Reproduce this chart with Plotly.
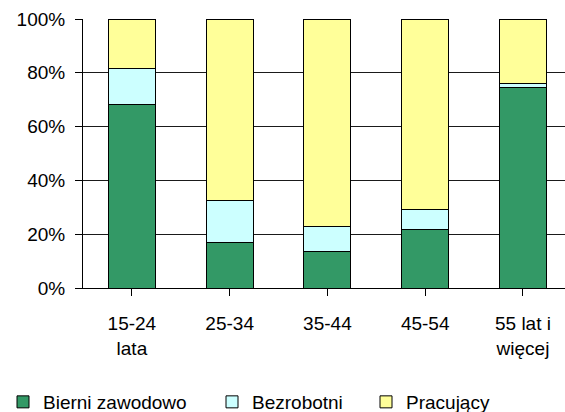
import plotly.graph_objects as go

categories = ["15-24<br>lata", "25-34", "35-44", "45-54", "55 lat i<br>więcej"]
bierni = [68.3, 16.8, 13.4, 21.8, 74.6]
bezrobotni = [13.4, 15.9, 9.6, 7.3, 1.5]
pracujacy = [18.3, 67.3, 77.0, 70.9, 23.9]
y_ticks = [0, 20, 40, 60, 80, 100]
y_labels = ["0%", "20%", "40%", "60%", "80%", "100%"]

series = [
    ("Bierni zawodowo", bierni, "#339966", "legend", 3),
    ("Bezrobotni", bezrobotni, "#CCFFFF", "legend2", 212),
    ("Pracujący", pracujacy, "#FFFF99", "legend3", 366),
]

FONT = "Arial, Liberation Sans, sans-serif"
W, H = 565, 412

fig = go.Figure()
for name, vals, color, lg, _ in series:
    fig.add_trace(go.Bar(
        x=list(range(len(categories))), y=vals, name=name, legend=lg,
        marker=dict(color=color, line=dict(color="#000000", width=1)),
        hoverinfo="skip",
    ))

legends = {}
for name, vals, color, lg, xpos in series:
    legends[lg] = dict(
        orientation="h", xref="container", yref="container",
        x=xpos / W, xanchor="left", y=1 - 402 / H, yanchor="middle",
        font=dict(family=FONT, size=19, color="#000000"),
        bgcolor="rgba(0,0,0,0)", borderwidth=0,
    )

fig.update_layout(
    width=W, height=H,
    barmode="stack", bargap=0.52,
    plot_bgcolor="white", paper_bgcolor="white",
    margin=dict(l=83, r=0, t=19, b=124),
    font=dict(family=FONT, size=19, color="#000000"),
    showlegend=True,
    xaxis=dict(
        range=[-0.5, 4.43],
        tickmode="array", tickvals=list(range(len(categories))), ticktext=categories,
        showgrid=False, zeroline=False,
        showline=True, linecolor="#000000", linewidth=1,
        ticks="outside", tickson="boundaries", ticklen=7, tickcolor="#000000",
        ticklabelstandoff=11,
    ),
    yaxis=dict(
        range=[0, 100], tickmode="array", tickvals=y_ticks, ticktext=y_labels,
        showgrid=True, gridcolor="#1a1a1a", gridwidth=1, zeroline=False,
        showline=True, linecolor="#000000", linewidth=1,
        ticks="outside", ticklen=7, tickcolor="#000000",
        ticklabelstandoff=6,
    ),
    **legends,
)

fig.write_html("out.html", config={"displayModeBar": False},
               post_script="document.body.style.margin='0px';")
